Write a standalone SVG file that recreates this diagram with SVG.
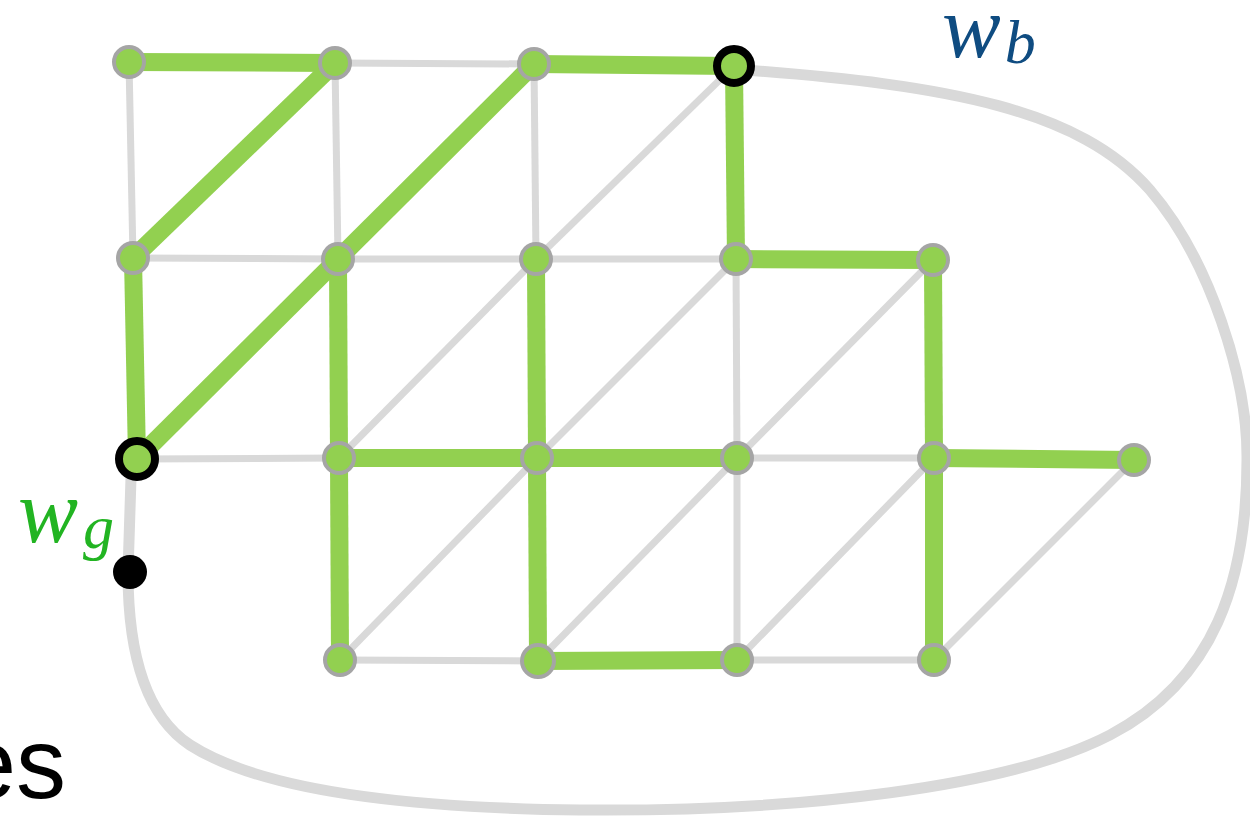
<svg xmlns="http://www.w3.org/2000/svg" width="1250" height="817" viewBox="0 0 1250 817">
  <style>
    .loop { fill: none; stroke: #D9D9D9; stroke-width: 11; stroke-linecap: round; }
    .thin { stroke: #D9D9D9; stroke-width: 7; stroke-linecap: butt; }
    .tree { stroke: #92D050; stroke-width: 18; stroke-linecap: butt; }
    .node { fill: #92D050; stroke: #A5A5A5; stroke-width: 4; }
    .term { fill: #92D050; stroke: #000000; stroke-width: 8; }
    .lbl { font-family: "Liberation Serif", "Times New Roman", serif; font-style: italic; }
  </style>

  <rect width="1250" height="817" fill="#FFFFFF"/>

  <!-- outer boundary loop from w_b around to w_g -->
  <path class="loop" d="M 745 70 C 950 85, 1080 110, 1150 190 C 1210 260, 1248 380, 1247 460 C 1247 580, 1215 680, 1110 735 C 1010 787, 800 812, 580 810 C 400 808, 260 790, 190 745 C 140 712, 128 640, 128 572 L 131 478"/>

  <g id="connectors">
    <!-- light grid edges -->
    <line class="thin" x1="335" y1="63" x2="534" y2="64"/>
    <line class="thin" x1="129" y1="62" x2="133" y2="258"/>
    <line class="thin" x1="335" y1="63" x2="338" y2="259"/>
    <line class="thin" x1="534" y1="64" x2="536" y2="259"/>
    <line class="thin" x1="734" y1="66" x2="536" y2="259"/>
    <line class="thin" x1="133" y1="258" x2="338" y2="259"/>
    <line class="thin" x1="338" y1="259" x2="536" y2="259"/>
    <line class="thin" x1="536" y1="259" x2="736" y2="259"/>
    <line class="thin" x1="536" y1="259" x2="339" y2="458"/>
    <line class="thin" x1="736" y1="259" x2="537" y2="458"/>
    <line class="thin" x1="736" y1="259" x2="737" y2="458"/>
    <line class="thin" x1="933" y1="260" x2="737" y2="458"/>
    <line class="thin" x1="137" y1="459" x2="339" y2="458"/>
    <line class="thin" x1="737" y1="458" x2="934" y2="458"/>
    <line class="thin" x1="537" y1="458" x2="340" y2="660"/>
    <line class="thin" x1="737" y1="458" x2="538" y2="661"/>
    <line class="thin" x1="737" y1="458" x2="737" y2="660"/>
    <line class="thin" x1="934" y1="458" x2="737" y2="660"/>
    <line class="thin" x1="1134" y1="460" x2="934" y2="660"/>
    <line class="thin" x1="340" y1="660" x2="538" y2="661"/>
    <line class="thin" x1="737" y1="660" x2="934" y2="660"/>

    <!-- highlighted tree edges -->
    <line class="tree" x1="129" y1="62" x2="335" y2="63"/>
    <line class="tree" x1="335" y1="63" x2="133" y2="258"/>
    <line class="tree" x1="534" y1="64" x2="734" y2="66"/>
    <line class="tree" x1="534" y1="64" x2="137" y2="459"/>
    <line class="tree" x1="734" y1="66" x2="736" y2="259"/>
    <line class="tree" x1="736" y1="259" x2="933" y2="260"/>
    <line class="tree" x1="133" y1="258" x2="137" y2="459"/>
    <line class="tree" x1="338" y1="259" x2="339" y2="458"/>
    <line class="tree" x1="536" y1="259" x2="537" y2="458"/>
    <line class="tree" x1="933" y1="260" x2="934" y2="458"/>
    <line class="tree" x1="339" y1="458" x2="537" y2="458"/>
    <line class="tree" x1="537" y1="458" x2="737" y2="458"/>
    <line class="tree" x1="934" y1="458" x2="1134" y2="460"/>
    <line class="tree" x1="339" y1="458" x2="340" y2="660"/>
    <line class="tree" x1="537" y1="458" x2="538" y2="661"/>
    <line class="tree" x1="934" y1="458" x2="934" y2="660"/>
    <line class="tree" x1="538" y1="661" x2="737" y2="660"/>
  </g>

  <!-- grid vertices -->
  <g id="n-a1"><circle class="node" cx="129" cy="62" r="15"/></g>
  <g id="n-a2"><circle class="node" cx="335" cy="63" r="15"/></g>
  <g id="n-a3"><circle class="node" cx="534" cy="64" r="15"/></g>
  <g id="n-wb"><circle class="term" cx="734" cy="66" r="17"/></g>
  <g id="n-b1"><circle class="node" cx="133" cy="258" r="15"/></g>
  <g id="n-b2"><circle class="node" cx="338" cy="259" r="15"/></g>
  <g id="n-b3"><circle class="node" cx="536" cy="259" r="15"/></g>
  <g id="n-b4"><circle class="node" cx="736" cy="259" r="15"/></g>
  <g id="n-b5"><circle class="node" cx="933" cy="260" r="15"/></g>
  <g id="n-wg"><circle class="term" cx="137" cy="459" r="18"/></g>
  <g id="n-c2"><circle class="node" cx="339" cy="458" r="15"/></g>
  <g id="n-c3"><circle class="node" cx="537" cy="458" r="15"/></g>
  <g id="n-c4"><circle class="node" cx="737" cy="458" r="15"/></g>
  <g id="n-c5"><circle class="node" cx="934" cy="458" r="15"/></g>
  <g id="n-c6"><circle class="node" cx="1134" cy="460" r="15"/></g>
  <g id="n-d2"><circle class="node" cx="340" cy="660" r="15"/></g>
  <g id="n-d3"><circle class="node" cx="538" cy="661" r="16"/></g>
  <g id="n-d4"><circle class="node" cx="737" cy="660" r="15"/></g>
  <g id="n-d5"><circle class="node" cx="934" cy="660" r="15"/></g>
  <g id="n-dot"><circle cx="130" cy="572" r="17" fill="#000000"/></g>

  <!-- labels -->
  <text class="lbl" x="942" y="57" font-size="88" fill="#0F4C81">w<tspan font-size="62" dx="4" dy="6">b</tspan></text>
  <text class="lbl" x="18" y="542" font-size="90" fill="#22B422">w<tspan font-size="62" dx="5" dy="6">g</tspan></text>
  <text x="66" y="798" font-family="'Liberation Sans', Arial, sans-serif" font-size="100" text-anchor="end" fill="#000000">es</text>
</svg>
